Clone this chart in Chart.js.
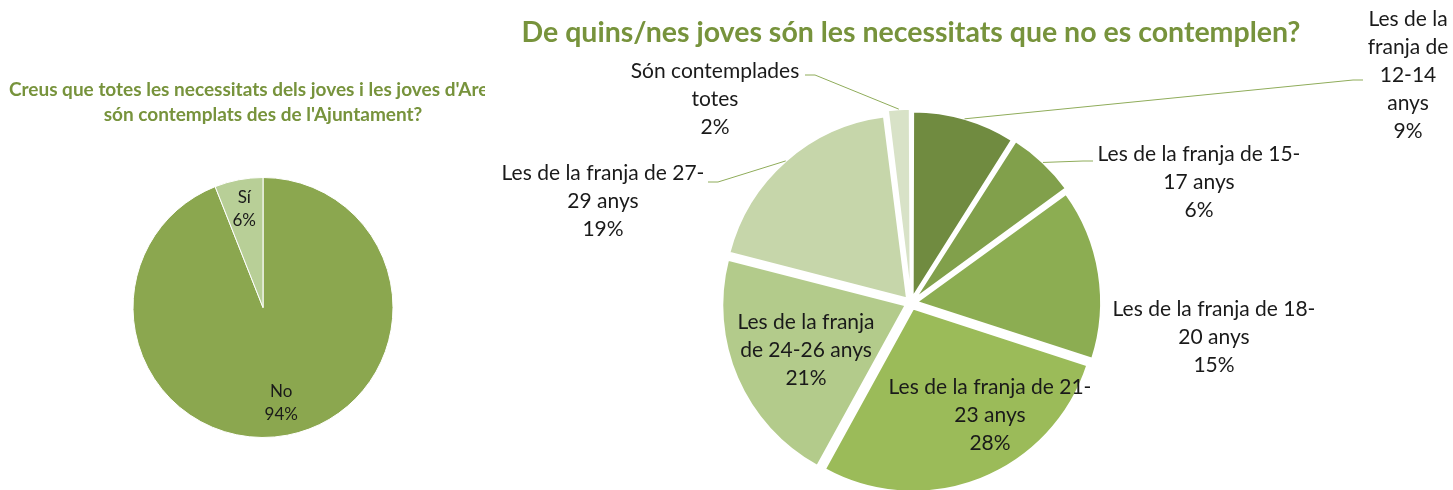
<!DOCTYPE html>
<html>
<head>
<meta charset="utf-8">
<script src="https://cdn.jsdelivr.net/npm/chart.js@4.4.1/dist/chart.umd.min.js"></script>
<style>
  body { margin:0; background:#fff; width:1453px; height:490px; overflow:hidden; position:relative; }
  #leftWrap { position:absolute; left:0; top:0; width:485px; height:490px; overflow:hidden; }
  #rightBox { position:absolute; left:367px; top:0; }
  canvas { display:block; }
</style>
</head>
<body>
<div id="leftWrap"><canvas id="pie-left" width="526" height="490"></canvas></div>
<div id="rightBox"><canvas id="pie-right" width="1088" height="490"></canvas></div>
<script>
// question 1
const q1Labels = ["No", "Sí"];
const q1Values = [94, 6];
const q1Colors = ["#8ba74f", "#b8cf97"];

// question 2 (labels split in lines like the original)
const q2Labels = [
  ["Les de la", "franja de", "12-14", "anys"],
  ["Les de la franja de 15-", "17 anys"],
  ["Les de la franja de 18-", "20 anys"],
  ["Les de la franja de 21-", "23 anys"],
  ["Les de la franja", "de 24-26 anys"],
  ["Les de la franja de 27-", "29 anys"],
  ["Són contemplades", "totes"]
];
const q2Values = [9, 6, 15, 28, 21, 19, 2];
const q2Colors = ["#708b40", "#81a04b", "#8cad52", "#9bbb59", "#b3cb8b", "#c6d6aa", "#d8e2c7"];

const titleGreen = "#77933c";

// draws the "name / xx%" labels, with leader lines when needed
const sliceLabels = {
  id: 'sliceLabels',
  afterDatasetsDraw(chart, args, opts) {
    const ctx = chart.ctx;
    const meta = chart.getDatasetMeta(0);
    const data = chart.data.datasets[0].data;
    ctx.save();
    ctx.font = opts.font;
    ctx.fillStyle = opts.color;
    ctx.textAlign = 'center';
    ctx.textBaseline = 'middle';
    meta.data.forEach((arc, i) => {
      const p = arc.getProps(['x', 'y', 'startAngle', 'endAngle', 'outerRadius', 'circumference'], true);
      const mid = (p.startAngle + p.endAngle) / 2;
      // chart.js moves an arc by offset/4 and grows it a bit for thin slices
      const shift = (arc.options.offset || 0) / 4;
      const grow = shift * (1 - Math.sin(Math.min(Math.PI, p.circumference)));
      const lines = [].concat(chart.data.labels[i], data[i] + '%');
      const spec = opts.place[i];
      let cx, cy;
      if (spec.r) {
        cx = p.x + Math.cos(mid) * p.outerRadius * spec.r;
        cy = p.y + Math.sin(mid) * p.outerRadius * spec.r;
      } else {
        cx = p.x + spec.dx;
        cy = p.y + spec.dy;
      }
      const top = cy - (lines.length - 1) * opts.lineHeight / 2;
      lines.forEach((t, k) => ctx.fillText(t, cx, top + k * opts.lineHeight));
      if (spec.lead) {
        const ax = p.x + spec.lead[0], ay = p.y + spec.lead[1];
        const edge = p.outerRadius + shift + grow;
        const ex = p.x + Math.cos(mid) * edge;
        const ey = p.y + Math.sin(mid) * edge;
        ctx.beginPath();
        ctx.strokeStyle = opts.leadColor;
        ctx.lineWidth = 1;
        ctx.moveTo(ax, ay);
        ctx.lineTo(ax + (ex < ax ? -10 : 10), ay);
        ctx.lineTo(ex, ey);
        ctx.stroke();
      }
    });
    ctx.restore();
  }
};

new Chart(document.getElementById("pie-left"), {
  type: 'pie',
  data: {
    labels: q1Labels,
    datasets: [{
      data: q1Values,
      backgroundColor: q1Colors,
      borderColor: "#fff",
      borderWidth: 1
    }]
  },
  options: {
    responsive: false,
    animation: false,
    radius: 130,
    layout: { padding: { bottom: 45 } },
    plugins: {
      legend: { display: false },
      tooltip: { enabled: false },
      title: {
        display: true,
        text: ["Creus que totes les necessitats dels joves i les joves d'Arenys", "són contemplats des de l'Ajuntament?"],
        color: titleGreen,
        font: { family: 'Lato', size: 19, weight: 'bold', lineHeight: 1.316 },
        padding: { top: 77.5, bottom: 42.5 }
      },
      sliceLabels: {
        font: '17px Lato',
        color: '#1a1a1a',
        lineHeight: 23,
        place: [{ r: 0.75 }, { r: 0.77 }]
      }
    }
  },
  plugins: [sliceLabels]
});

new Chart(document.getElementById("pie-right"), {
  type: 'pie',
  data: {
    labels: q2Labels,
    datasets: [{
      data: q2Values,
      backgroundColor: q2Colors,
      borderColor: "#fff",
      borderWidth: 2,
      offset: 24
    }]
  },
  options: {
    responsive: false,
    animation: false,
    radius: 183,
    plugins: {
      legend: { display: false },
      tooltip: { enabled: false },
      title: {
        display: true,
        text: "De quins/nes joves són les necessitats que no es contemplen?",
        color: titleGreen,
        font: { family: 'Lato', size: 28.5, weight: 'bold', lineHeight: 1.2 },
        padding: { top: 15.9, bottom: 65.9 }
      },
      sliceLabels: {
        font: '21px Lato',
        color: '#1a1a1a',
        lineHeight: 28,
        leadColor: '#8fac5a',
        place: [
          { dx: 497, dy: -228, lead: [452, -223] },
          { dx: 288, dy: -121, lead: [182, -142] },
          { dx: 303, dy: 34 },
          { dx: 79, dy: 112 },
          { dx: -105, dy: 47 },
          { dx: -308, dy: -102, lead: [-203, -121] },
          { dx: -196, dy: -204, lead: [-106, -228] }
        ]
      }
    }
  },
  plugins: [sliceLabels]
});
</script>
</body>
</html>
